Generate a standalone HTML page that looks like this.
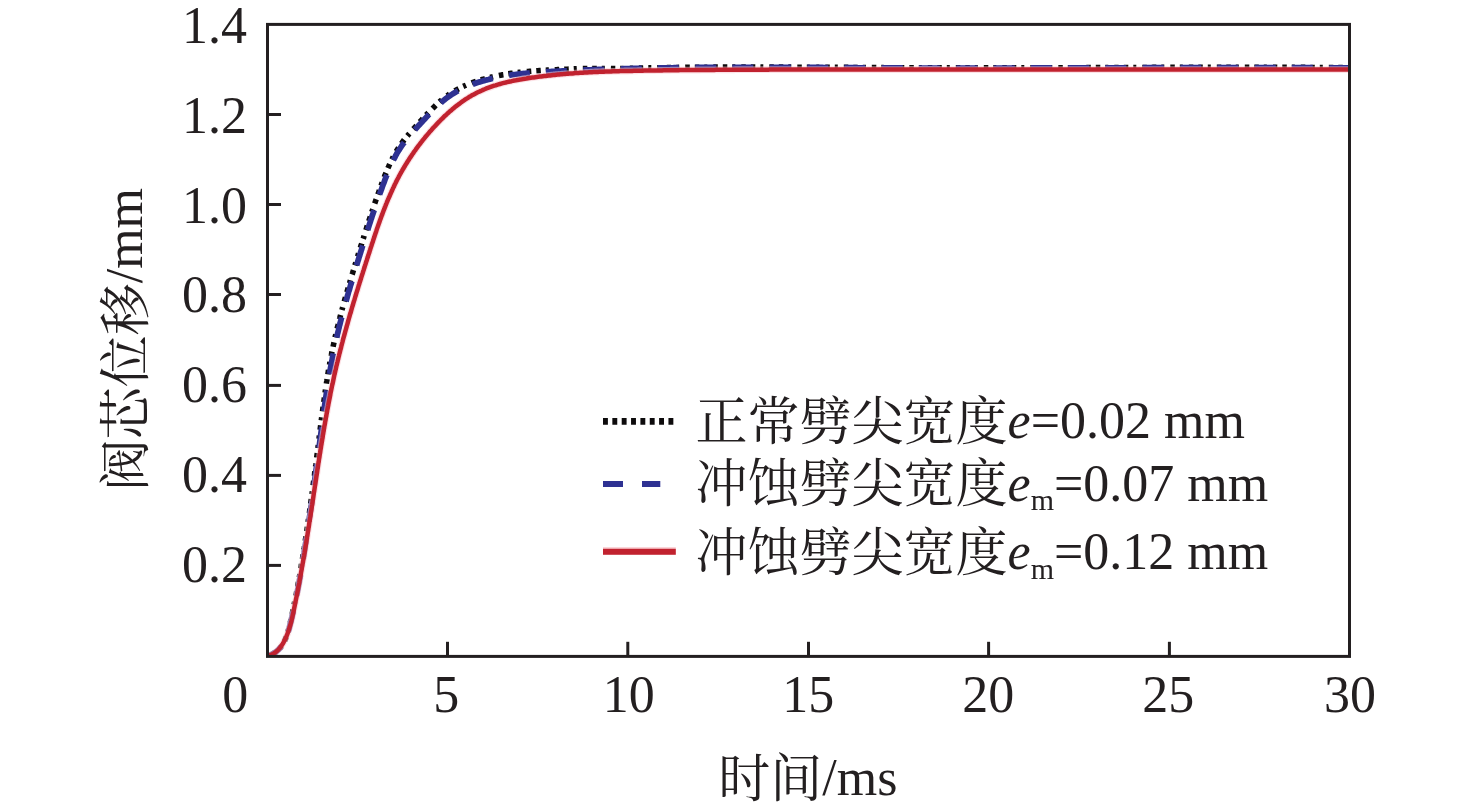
<!DOCTYPE html>
<html lang="zh">
<head>
<meta charset="utf-8">
<title>阀芯位移 - 时间</title>
<style>
html,body{margin:0;padding:0;background:#fff;}
body{width:1476px;height:811px;overflow:hidden;}
svg{display:block;}
</style>
</head>
<body>
<svg width="1476" height="811" viewBox="0 0 1476 811">
<rect x="0" y="0" width="1476" height="811" fill="#ffffff"/>
<clipPath id="pc"><rect x="267.5" y="24.4" width="1082.0" height="632.0"/></clipPath>
<g clip-path="url(#pc)" fill="none" stroke-linejoin="round">
<path d="M272.2,654.1 L273.5,653.4 L274.8,652.6 L276.0,651.8 M279.7,648.4 L280.7,647.2 L281.6,646.0 M284.6,640.9 L285.2,639.5 L285.8,638.1 L286.3,636.7 M287.9,632.0 L288.3,630.6 L288.7,629.1 M290.3,622.8 L290.6,621.4 L290.9,619.9 M292.2,614.0 L292.5,612.6 L292.8,611.1 L293.1,609.6 M294.1,604.7 L294.4,603.3 L294.7,601.8 M295.9,595.9 L296.2,594.5 L296.5,593.0 L296.7,591.5 M297.7,586.6 L297.9,585.1 L298.2,583.6 L298.5,582.2 M299.4,577.3 L299.6,575.8 L299.9,574.3 M300.9,568.4 L301.1,566.9 L301.4,565.4 L301.6,564.0 M302.4,559.0 L302.7,557.5 L302.9,556.1 L303.2,554.6 M303.9,549.7 L304.2,548.2 L304.4,546.7 M305.3,540.8 L305.5,539.3 L305.8,537.8 L306.0,536.3 M306.7,531.4 L307.0,529.9 L307.2,528.4 L307.4,526.9 M308.1,522.0 L308.3,520.5 L308.5,519.0 M309.4,513.1 L309.6,511.6 L309.8,510.1 L310.0,508.6 M310.7,503.7 L310.9,502.2 L311.1,500.7 L311.3,499.2 M312.0,494.2 L312.2,492.8 L312.4,491.3 M313.1,485.3 L313.3,483.8 L313.5,482.3 L313.7,480.9 M314.4,475.9 L314.6,474.4 L314.7,472.9 L314.9,471.4 M315.6,466.5 L315.8,465.0 L315.9,463.5 M316.7,457.6 L316.9,456.1 L317.1,454.6 L317.3,453.1 M317.9,448.1 L318.1,446.6 L318.3,445.2 M319.1,438.7 L319.2,437.2 L319.4,435.7 M320.2,429.8 L320.3,428.3 L320.5,426.8 L320.7,425.3 M321.3,420.3 L321.5,418.8 L321.7,417.4 M322.5,411.4 L322.7,409.9 L322.9,408.4 L323.1,406.9 M323.8,402.0 L324.0,400.5 L324.2,399.0 L324.4,397.5 M325.1,392.6 L325.3,391.1 L325.5,389.6 M326.4,383.6 L326.6,382.2 L326.9,380.7 L327.1,379.2 M327.9,374.3 L328.1,372.8 L328.4,371.3 L328.6,369.8 M329.5,364.9 L329.8,363.4 L330.0,361.9 M331.2,356.0 L331.5,354.5 L331.7,353.1 L332.0,351.6 M333.1,346.7 L333.4,345.2 L333.7,343.7 L334.0,342.3 M335.1,337.4 L335.4,335.9 L335.8,334.4 M337.2,328.6 L337.5,327.1 L337.9,325.7 L338.3,324.2 M339.5,319.3 L339.9,317.9 L340.2,316.4 L340.6,315.0 M341.9,310.1 L342.3,308.7 L342.7,307.2 M344.3,301.5 L344.7,300.0 L345.1,298.6 L345.5,297.1 M346.9,292.3 L347.3,290.9 L347.7,289.4 L348.2,288.0 M349.6,283.2 L350.0,281.7 L350.4,280.3 M352.1,274.5 L352.6,273.1 L353.0,271.7 L353.5,270.2 M354.9,265.4 L355.4,264.0 L355.8,262.6 M357.7,256.4 L358.1,254.9 L358.6,253.5 M360.4,247.8 L360.8,246.3 L361.3,244.9 L361.7,243.5 M363.2,238.7 L363.7,237.3 L364.1,235.8 M365.9,230.1 L366.4,228.7 L366.8,227.2 L367.3,225.8 M368.8,221.1 L369.3,219.6 L369.8,218.2 L370.3,216.8 M371.8,212.0 L372.3,210.6 L372.8,209.2 M374.7,203.5 L375.2,202.1 L375.7,200.6 L376.2,199.2 M377.9,194.5 L378.4,193.1 L378.9,191.7 L379.4,190.3 M381.1,185.6 L381.6,184.1 L382.2,182.7 M384.3,177.1 L384.8,175.7 L385.4,174.3 L386.0,172.9 M387.9,168.2 L388.5,166.9 L389.1,165.5 L389.7,164.1 M391.9,159.5 L392.6,158.2 L393.3,156.8 M396.2,151.5 L397.0,150.2 L397.8,148.9 L398.6,147.6 M401.5,143.5 L402.4,142.2 L403.3,141.0 L404.2,139.8 M407.4,135.9 L408.4,134.7 L409.4,133.6 M413.3,129.0 L414.4,127.9 L415.4,126.8 L416.4,125.7 M419.8,122.0 L420.8,120.9 L421.8,119.8 L422.8,118.7 M426.2,115.0 L427.2,113.9 L428.3,112.8 M432.5,108.5 L433.6,107.4 L434.6,106.4 L435.7,105.3 M439.5,101.9 L440.6,100.9 L441.8,99.9 M447.0,95.8 L448.2,95.0 L449.5,94.1 M454.7,90.8 L456.0,90.1 L457.3,89.4 L458.7,88.7 M463.2,86.4 L464.6,85.8 L466.0,85.2 M471.7,83.0 L473.1,82.4 L474.5,81.9 L476.0,81.4 M480.8,79.9 L482.2,79.5 L483.7,79.1 L485.1,78.7 M490.0,77.4 L491.5,77.1 L493.0,76.7 M498.9,75.5 L500.4,75.2 L501.9,74.9 L503.4,74.7 M508.3,73.8 L509.8,73.6 L511.3,73.4 L512.8,73.2 M517.8,72.6 L519.3,72.4 L520.8,72.2 M526.8,71.6 L528.3,71.5 L529.8,71.3 L531.3,71.2 M536.3,70.8 L537.8,70.7 L539.3,70.6 L540.8,70.5 M545.8,70.2 L547.3,70.1 L548.8,70.1 M554.8,69.8 L556.3,69.7 L557.8,69.6 L559.3,69.5 M564.3,69.3 L565.8,69.2 L567.3,69.2 L568.8,69.1 M573.8,68.9 L575.3,68.8 L576.8,68.7 M582.8,68.6 L584.3,68.6 L585.8,68.6 L587.3,68.6 M592.3,68.6 L593.8,68.5 L595.3,68.5 L596.8,68.5 M601.8,68.5 L603.3,68.5 L604.8,68.5 M610.8,68.5 L612.3,68.6 L613.8,68.6 L615.3,68.6 M620.3,68.6 L621.8,68.5 L623.3,68.5 M629.8,68.3 L631.3,68.3 L632.8,68.3 M638.8,68.1 L640.3,68.1 L641.8,68.1 L643.3,68.0 M648.3,67.9 L649.8,67.9 L651.3,67.9 M657.3,67.8 L658.8,67.7 L660.3,67.7 L661.8,67.7 M666.8,67.6 L668.3,67.6 L669.8,67.6 L671.3,67.5 M676.3,67.5 L677.8,67.5 L679.3,67.4 M685.3,67.4 L686.8,67.3 L688.3,67.3 L689.8,67.3 M694.8,67.3 L696.3,67.3 L697.8,67.2 L699.3,67.2 M704.3,67.2 L705.8,67.2 L707.3,67.2 M713.3,67.1 L714.8,67.1 L716.3,67.1 L717.8,67.1 M722.8,67.1 L724.3,67.1 L725.8,67.1 L727.3,67.1 M732.3,67.1 L733.8,67.1 L735.3,67.1 M741.3,67.0 L742.8,67.0 L744.3,67.0 L745.8,67.0 M750.8,67.0 L752.3,67.0 L753.8,67.0 L755.3,67.0 M760.3,67.0 L761.8,67.1 L763.3,67.1 M769.3,67.1 L770.8,67.1 L772.3,67.1 L773.8,67.1 M778.8,67.1 L780.3,67.1 L781.8,67.1 L783.3,67.1 M788.3,67.1 L789.8,67.1 L791.3,67.1 M797.3,67.2 L798.8,67.2 L800.3,67.2 L801.8,67.2 M806.8,67.2 L808.3,67.2 L809.8,67.2 M816.3,67.3 L817.8,67.3 L819.3,67.3 M825.3,67.3 L826.8,67.3 L828.3,67.3 L829.8,67.3 M834.8,67.4 L836.3,67.4 L837.8,67.4 M843.8,67.4 L845.3,67.4 L846.8,67.4 L848.3,67.4 M853.3,67.5 L854.8,67.5 L856.3,67.5 L857.8,67.5 M862.8,67.5 L864.3,67.5 L865.8,67.6 M871.8,67.6 L873.3,67.6 L874.8,67.6 L876.3,67.6 M881.3,67.6 L882.8,67.6 L884.3,67.7 L885.8,67.7 M890.8,67.7 L892.3,67.7 L893.8,67.7 M899.8,67.7 L901.3,67.7 L902.8,67.7 L904.3,67.7 M909.3,67.8 L910.8,67.8 L912.3,67.8 L913.8,67.8 M918.8,67.8 L920.3,67.8 L921.8,67.8 M927.8,67.8 L929.3,67.8 L930.8,67.8 L932.3,67.8 M937.3,67.8 L938.8,67.8 L940.3,67.8 L941.8,67.8 M946.8,67.9 L948.3,67.9 L949.8,67.9 M955.8,67.9 L957.3,67.9 L958.8,67.9 L960.3,67.9 M965.3,67.9 L966.8,67.9 L968.3,67.9 L969.8,67.9 M974.8,67.9 L976.3,67.9 L977.8,67.9 M983.8,67.9 L985.3,67.9 L986.8,67.9 L988.3,67.9 M993.3,67.9 L994.8,67.9 L996.3,67.9 M1002.3,67.8 L1003.8,67.8 L1005.3,67.8 L1006.8,67.8 M1011.8,67.8 L1013.3,67.8 L1014.8,67.8 L1016.3,67.8 M1021.3,67.8 L1022.8,67.8 L1024.3,67.8 M1030.3,67.8 L1031.8,67.8 L1033.3,67.8 L1034.8,67.8 M1039.8,67.8 L1041.3,67.8 L1042.8,67.8 L1044.3,67.8 M1049.3,67.8 L1050.8,67.7 L1052.3,67.7 M1058.3,67.7 L1059.8,67.7 L1061.3,67.7 L1062.8,67.7 M1067.8,67.7 L1069.3,67.7 L1070.8,67.7 L1072.3,67.7 M1077.3,67.7 L1078.8,67.7 L1080.3,67.7 M1086.3,67.6 L1087.8,67.6 L1089.3,67.6 L1090.8,67.6 M1095.8,67.6 L1097.3,67.6 L1098.8,67.6 L1100.3,67.6 M1105.3,67.6 L1106.8,67.6 L1108.3,67.6 M1114.3,67.6 L1115.8,67.6 L1117.3,67.6 L1118.8,67.5 M1123.8,67.5 L1125.3,67.5 L1126.8,67.5 L1128.3,67.5 M1133.3,67.5 L1134.8,67.5 L1136.3,67.5 M1142.3,67.5 L1143.8,67.5 L1145.3,67.5 L1146.8,67.5 M1151.8,67.5 L1153.3,67.4 L1154.8,67.4 L1156.3,67.4 M1161.3,67.4 L1162.8,67.4 L1164.3,67.4 M1170.3,67.4 L1171.8,67.4 L1173.3,67.4 L1174.8,67.4 M1179.8,67.4 L1181.3,67.4 L1182.8,67.4 M1188.8,67.4 L1190.3,67.4 L1191.8,67.4 L1193.3,67.4 M1198.3,67.3 L1199.8,67.3 L1201.3,67.3 L1202.8,67.3 M1207.8,67.3 L1209.3,67.3 L1210.8,67.3 M1216.8,67.3 L1218.3,67.3 L1219.8,67.3 L1221.3,67.3 M1226.3,67.3 L1227.8,67.3 L1229.3,67.3 L1230.8,67.3 M1235.8,67.3 L1237.3,67.3 L1238.8,67.3 M1244.8,67.3 L1246.3,67.3 L1247.8,67.3 L1249.3,67.3 M1254.3,67.3 L1255.8,67.3 L1257.3,67.3 L1258.8,67.3 M1263.8,67.3 L1265.3,67.3 L1266.8,67.3 M1272.8,67.3 L1274.3,67.4 L1275.8,67.4 L1277.3,67.4 M1282.3,67.4 L1283.8,67.4 L1285.3,67.4 L1286.8,67.4 M1291.8,67.4 L1293.3,67.4 L1294.8,67.4 M1300.8,67.4 L1302.3,67.4 L1303.8,67.4 L1305.3,67.4 M1310.3,67.5 L1311.8,67.5 L1313.3,67.5 L1314.8,67.5 M1319.8,67.5 L1321.3,67.5 L1322.8,67.5 M1328.8,67.6 L1330.3,67.6 L1331.8,67.6 L1333.3,67.6 M1338.3,67.6 L1339.8,67.6 L1341.3,67.6 L1342.8,67.6 M1347.8,67.7 L1348.3,67.7 L1348.8,67.7 L1349.3,67.7" stroke="#0d0b0c" stroke-width="5.6"/>
<path d="M267.5,655.9 L269.0,655.5 L270.4,655.0 L271.8,654.3 L273.1,653.7 L274.4,652.9 L275.6,652.1 L276.8,651.2 L277.9,650.2 L279.0,649.1 L280.0,648.0 L281.0,646.9 M288.2,631.6 L288.7,630.1 L289.1,628.7 L289.5,627.3 L289.8,625.8 L290.2,624.3 L290.6,622.9 L290.9,621.4 L291.3,620.0 L291.6,618.5 L292.0,617.1 L292.3,615.6 L292.6,614.1 L293.0,612.7 L293.3,611.2 M296.6,595.6 L296.9,594.1 L297.2,592.6 L297.5,591.1 L297.8,589.7 L298.1,588.2 L298.3,586.7 L298.6,585.3 L298.9,583.8 L299.2,582.3 L299.4,580.8 L299.7,579.3 L300.0,577.9 L300.2,576.4 L300.5,574.9 M303.2,558.6 L303.5,557.2 L303.7,555.7 L303.9,554.2 L304.2,552.7 L304.4,551.2 L304.6,549.8 L304.9,548.3 L305.1,546.8 L305.3,545.3 L305.6,543.8 L305.8,542.3 L306.0,540.9 L306.2,539.4 L306.5,537.9 M308.9,521.6 L309.1,520.1 L309.3,518.6 L309.5,517.1 L309.8,515.6 L310.0,514.2 L310.2,512.7 L310.4,511.2 L310.6,509.7 L310.8,508.2 L311.0,506.7 L311.3,505.2 L311.5,503.8 L311.7,502.3 L311.9,500.8 M314.1,484.9 L314.3,483.5 L314.5,482.0 L314.7,480.5 L314.9,479.0 L315.1,477.5 L315.3,476.0 L315.5,474.5 L315.7,473.1 L315.9,471.6 L316.1,470.1 L316.3,468.6 L316.5,467.1 L316.7,465.6 L316.9,464.1 M319.1,447.8 L319.2,446.3 L319.4,444.8 L319.6,443.3 L319.8,441.8 L320.0,440.3 L320.2,438.9 L320.4,437.4 L320.6,435.9 L320.8,434.4 L321.0,432.9 L321.2,431.4 L321.4,429.9 L321.6,428.4 L321.8,427.0 M323.9,411.1 L324.1,409.6 L324.3,408.1 L324.5,406.6 L324.7,405.2 L324.9,403.7 L325.1,402.2 L325.4,400.7 L325.6,399.2 L325.8,397.7 L326.0,396.2 L326.2,394.8 L326.4,393.3 L326.7,391.8 L326.9,390.3 M329.5,374.0 L329.8,372.5 L330.0,371.1 L330.3,369.6 L330.5,368.1 L330.8,366.6 L331.1,365.2 L331.3,363.7 L331.6,362.2 L331.9,360.7 L332.2,359.3 L332.4,357.8 L332.7,356.3 L333.0,354.8 L333.3,353.4 M336.7,337.7 L337.0,336.3 L337.3,334.8 L337.7,333.3 L338.0,331.9 L338.4,330.4 L338.7,329.0 L339.1,327.5 L339.4,326.0 L339.8,324.6 L340.2,323.1 L340.5,321.7 L340.9,320.2 L341.3,318.8 L341.7,317.3 M346.0,301.4 L346.4,300.0 L346.8,298.5 L347.2,297.1 L347.6,295.6 L348.0,294.2 L348.4,292.7 L348.8,291.3 L349.3,289.9 L349.7,288.4 L350.1,287.0 L350.5,285.5 L351.0,284.1 L351.4,282.7 L351.8,281.2 M356.6,265.4 L357.0,264.0 L357.5,262.6 L357.9,261.1 L358.4,259.7 L358.8,258.3 L359.2,256.8 L359.7,255.4 L360.1,254.0 L360.6,252.5 L361.0,251.1 L361.5,249.7 L361.9,248.2 L362.3,246.8 L362.8,245.4 M367.6,230.1 L368.1,228.7 L368.5,227.3 L369.0,225.8 L369.4,224.4 L369.9,223.0 L370.4,221.5 L370.8,220.1 L371.3,218.7 L371.8,217.3 L372.2,215.8 L372.7,214.4 L373.2,213.0 L373.7,211.6 L374.1,210.2 M379.5,194.6 L380.0,193.2 L380.6,191.7 L381.1,190.3 L381.6,188.9 L382.1,187.5 L382.6,186.1 L383.1,184.7 L383.7,183.3 L384.2,181.9 L384.7,180.5 L385.2,179.1 L385.8,177.7 L386.3,176.3 L386.9,174.9 M393.3,160.2 L394.0,158.9 L394.7,157.6 L395.4,156.2 L396.1,154.9 L396.8,153.6 L397.6,152.3 L398.4,151.0 L399.2,149.8 L400.0,148.5 L400.8,147.3 L401.6,146.0 L402.5,144.8 L403.4,143.6 L404.3,142.4 M414.9,129.7 L415.9,128.6 L416.9,127.5 L417.9,126.4 L418.9,125.3 L419.9,124.2 L420.9,123.1 L422.0,122.0 L423.0,120.9 L424.0,119.8 L425.0,118.7 L426.0,117.6 L427.0,116.5 L428.1,115.4 L429.1,114.3 M440.9,102.8 L442.0,101.8 L443.2,100.8 L444.4,99.9 L445.5,98.9 L446.7,98.0 L447.9,97.1 L449.1,96.3 L450.4,95.4 L451.6,94.6 L452.9,93.8 L454.2,93.0 L455.5,92.2 L456.8,91.5 L458.1,90.8 M472.7,84.3 L474.1,83.8 L475.5,83.3 L476.9,82.8 L478.4,82.3 L479.8,81.9 L481.2,81.5 L482.7,81.0 L484.1,80.6 L485.6,80.2 L487.0,79.8 L488.5,79.5 L489.9,79.1 L491.4,78.7 L492.8,78.4 M509.1,75.3 L510.5,75.1 L512.0,74.9 L513.5,74.7 L515.0,74.5 L516.5,74.3 L518.0,74.1 L519.5,74.0 L521.0,73.8 L522.4,73.6 L523.9,73.5 L525.4,73.3 L526.9,73.2 L528.4,73.1 L529.9,72.9 M545.9,71.8 L547.4,71.7 L548.9,71.7 L550.4,71.6 L551.9,71.5 L553.4,71.4 L554.9,71.4 L556.4,71.3 L557.9,71.2 L559.4,71.1 L560.9,71.1 L562.4,71.0 L563.9,70.9 L565.3,70.8 L566.8,70.8 M583.3,70.1 L584.8,70.0 L586.3,70.0 L587.8,69.9 L589.3,69.8 L590.8,69.8 L592.3,69.7 L593.8,69.7 L595.3,69.6 L596.8,69.6 L598.3,69.5 L599.8,69.5 L601.3,69.4 L602.8,69.4 L604.3,69.3 M620.8,68.8 L622.3,68.8 L623.8,68.7 L625.3,68.7 L626.8,68.7 L628.3,68.6 L629.8,68.6 L631.3,68.6 L632.8,68.5 L634.3,68.5 L635.8,68.4 L637.3,68.4 L638.8,68.4 L640.3,68.3 L641.8,68.3 M657.8,68.0 L659.3,68.0 L660.8,68.0 L662.3,67.9 L663.8,67.9 L665.3,67.9 L666.8,67.9 L668.3,67.8 L669.8,67.8 L671.3,67.8 L672.8,67.8 L674.3,67.7 L675.8,67.7 L677.3,67.7 L678.8,67.7 M695.3,67.5 L696.8,67.5 L698.3,67.5 L699.8,67.5 L701.3,67.5 L702.8,67.5 L704.3,67.4 L705.8,67.4 L707.3,67.4 L708.8,67.4 L710.3,67.4 L711.8,67.4 L713.3,67.4 L714.8,67.4 L716.3,67.4 M732.3,67.3 L733.8,67.3 L735.3,67.3 L736.8,67.3 L738.3,67.3 L739.8,67.3 L741.3,67.3 L742.8,67.3 L744.3,67.3 L745.8,67.3 L747.3,67.3 L748.8,67.3 L750.3,67.3 L751.8,67.3 L753.3,67.3 M769.8,67.3 L771.3,67.3 L772.8,67.3 L774.3,67.3 L775.8,67.3 L777.3,67.3 L778.8,67.3 L780.3,67.3 L781.8,67.4 L783.3,67.4 L784.8,67.4 L786.3,67.4 L787.8,67.4 L789.3,67.4 L790.8,67.4 M807.3,67.5 L808.8,67.5 L810.3,67.5 L811.8,67.5 L813.3,67.5 L814.8,67.5 L816.3,67.5 L817.8,67.5 L819.3,67.5 L820.8,67.5 L822.3,67.5 L823.8,67.6 L825.3,67.6 L826.8,67.6 L828.3,67.6 M844.3,67.7 L845.8,67.7 L847.3,67.7 L848.8,67.7 L850.3,67.7 L851.8,67.7 L853.3,67.7 L854.8,67.7 L856.3,67.7 L857.8,67.8 L859.3,67.8 L860.8,67.8 L862.3,67.8 L863.8,67.8 L865.3,67.8 M881.8,67.9 L883.3,67.9 L884.8,67.9 L886.3,67.9 L887.8,67.9 L889.3,67.9 L890.8,67.9 L892.3,67.9 L893.8,68.0 L895.3,68.0 L896.8,68.0 L898.3,68.0 L899.8,68.0 L901.3,68.0 L902.8,68.0 M918.8,68.0 L920.3,68.1 L921.8,68.1 L923.3,68.1 L924.8,68.1 L926.3,68.1 L927.8,68.1 L929.3,68.1 L930.8,68.1 L932.3,68.1 L933.8,68.1 L935.3,68.1 L936.8,68.1 L938.3,68.1 L939.8,68.1 M956.3,68.1 L957.8,68.1 L959.3,68.1 L960.8,68.1 L962.3,68.1 L963.8,68.1 L965.3,68.1 L966.8,68.1 L968.3,68.1 L969.8,68.1 L971.3,68.1 L972.8,68.1 L974.3,68.1 L975.8,68.1 L977.3,68.1 M993.8,68.1 L995.3,68.1 L996.8,68.1 L998.3,68.1 L999.8,68.1 L1001.3,68.1 L1002.8,68.1 L1004.3,68.1 L1005.8,68.1 L1007.3,68.1 L1008.8,68.1 L1010.3,68.1 L1011.8,68.1 L1013.3,68.1 L1014.8,68.1 M1030.8,68.0 L1032.3,68.0 L1033.8,68.0 L1035.3,68.0 L1036.8,68.0 L1038.3,68.0 L1039.8,68.0 L1041.3,68.0 L1042.8,68.0 L1044.3,68.0 L1045.8,68.0 L1047.3,68.0 L1048.8,68.0 L1050.3,68.0 L1051.8,68.0 M1068.3,68.0 L1069.8,67.9 L1071.3,67.9 L1072.8,67.9 L1074.3,67.9 L1075.8,67.9 L1077.3,67.9 L1078.8,67.9 L1080.3,67.9 L1081.8,67.9 L1083.3,67.9 L1084.8,67.9 L1086.3,67.9 L1087.8,67.9 L1089.3,67.9 M1105.3,67.8 L1106.8,67.8 L1108.3,67.8 L1109.8,67.8 L1111.3,67.8 L1112.8,67.8 L1114.3,67.8 L1115.8,67.8 L1117.3,67.8 L1118.8,67.8 L1120.3,67.8 L1121.8,67.8 L1123.3,67.8 L1124.8,67.8 L1126.3,67.8 M1142.8,67.7 L1144.3,67.7 L1145.8,67.7 L1147.3,67.7 L1148.8,67.7 L1150.3,67.7 L1151.8,67.7 L1153.3,67.7 L1154.8,67.7 L1156.3,67.7 L1157.8,67.7 L1159.3,67.7 L1160.8,67.7 L1162.3,67.7 L1163.8,67.7 M1180.3,67.6 L1181.8,67.6 L1183.3,67.6 L1184.8,67.6 L1186.3,67.6 L1187.8,67.6 L1189.3,67.6 L1190.8,67.6 L1192.3,67.6 L1193.8,67.6 L1195.3,67.6 L1196.8,67.6 L1198.3,67.6 L1199.8,67.6 L1201.3,67.6 M1217.3,67.6 L1218.8,67.6 L1220.3,67.6 L1221.8,67.6 L1223.3,67.6 L1224.8,67.6 L1226.3,67.6 L1227.8,67.6 L1229.3,67.6 L1230.8,67.6 L1232.3,67.6 L1233.8,67.6 L1235.3,67.6 L1236.8,67.6 L1238.3,67.6 M1254.8,67.6 L1256.3,67.6 L1257.8,67.6 L1259.3,67.6 L1260.8,67.6 L1262.3,67.6 L1263.8,67.6 L1265.3,67.6 L1266.8,67.6 L1268.3,67.6 L1269.8,67.6 L1271.3,67.6 L1272.8,67.6 L1274.3,67.6 L1275.8,67.6 M1291.8,67.6 L1293.3,67.6 L1294.8,67.7 L1296.3,67.7 L1297.8,67.7 L1299.3,67.7 L1300.8,67.7 L1302.3,67.7 L1303.8,67.7 L1305.3,67.7 L1306.8,67.7 L1308.3,67.7 L1309.8,67.7 L1311.3,67.7 L1312.8,67.7 M1329.3,67.8 L1330.8,67.8 L1332.3,67.8 L1333.8,67.8 L1335.3,67.8 L1336.8,67.9 L1338.3,67.9 L1339.8,67.9 L1341.3,67.9 L1342.8,67.9 L1344.3,67.9 L1345.8,67.9 L1347.3,67.9 L1348.8,67.9" stroke="#2e3192" stroke-width="5.8"/>
<path d="M267.6,655.9 L269.2,655.5 L270.7,655.0 L272.1,654.4 L273.4,653.7 L274.7,652.9 L275.8,652.0 L276.9,651.1 L278.0,650.1 L278.9,649.1 L279.9,648.0 L280.7,646.8 L281.6,645.6 L282.3,644.4 L283.1,643.2 L283.8,641.9 L284.4,640.6 L285.1,639.3 L285.7,638.0 L286.3,636.6 L286.9,635.3 L287.4,633.9 L287.9,632.5 L288.4,631.1 L288.9,629.7 L289.3,628.3 L289.8,626.8 L290.2,625.4 L290.6,624.0 L291.0,622.5 L291.4,621.0 L291.7,619.6 L292.1,618.1 L292.4,616.6 L292.7,615.2 L293.1,613.7 L293.4,612.2 L293.7,610.7 L294.0,609.2 L294.3,607.7 L294.6,606.3 L294.9,604.8 L295.2,603.3 L295.5,601.8 L295.8,600.3 L296.1,598.8 L296.4,597.4 L296.7,595.9 L297.0,594.4 L297.3,592.9 L297.6,591.4 L297.9,590.0 L298.1,588.5 L298.4,587.0 L298.7,585.5 L299.0,584.1 L299.3,582.6 L299.5,581.1 L299.8,579.6 L300.1,578.2 L300.3,576.7 L300.6,575.2 L300.9,573.7 L301.1,572.3 L301.4,570.8 L301.7,569.3 L301.9,567.8 L302.2,566.4 L302.4,564.9 L302.7,563.4 L303.0,562.0 L303.2,560.5 L303.5,559.0 L303.7,557.5 L304.0,556.1 L304.2,554.6 L304.5,553.1 L304.7,551.7 L305.0,550.2 L305.2,548.7 L305.4,547.2 L305.7,545.8 L305.9,544.3 L306.2,542.8 L306.4,541.4 L306.6,539.9 L306.9,538.4 L307.1,537.0 L307.4,535.5 L307.6,534.0 L307.8,532.5 L308.1,531.1 L308.3,529.6 L308.5,528.1 L308.8,526.7 L309.0,525.2 L309.2,523.7 L309.4,522.3 L309.7,520.8 L309.9,519.3 L310.1,517.8 L310.4,516.4 L310.6,514.9 L310.8,513.4 L311.0,511.9 L311.3,510.5 L311.5,509.0 L311.7,507.5 L311.9,506.1 L312.2,504.6 L312.4,503.1 L312.6,501.6 L312.8,500.2 L313.1,498.7 L313.3,497.2 L313.5,495.7 L313.7,494.3 L313.9,492.8 L314.2,491.3 L314.4,489.8 L314.6,488.4 L314.8,486.9 L315.1,485.4 L315.3,483.9 L315.5,482.4 L315.7,481.0 L316.0,479.5 L316.2,478.0 L316.4,476.5 L316.6,475.1 L316.9,473.6 L317.1,472.1 L317.3,470.6 L317.5,469.1 L317.8,467.7 L318.0,466.2 L318.2,464.7 L318.4,463.2 L318.7,461.7 L318.9,460.3 L319.1,458.8 L319.4,457.3 L319.6,455.8 L319.8,454.3 L320.1,452.9 L320.3,451.4 L320.5,449.9 L320.8,448.4 L321.0,447.0 L321.2,445.5 L321.5,444.0 L321.7,442.5 L322.0,441.0 L322.2,439.6 L322.5,438.1 L322.7,436.6 L322.9,435.1 L323.2,433.7 L323.4,432.2 L323.7,430.7 L323.9,429.2 L324.2,427.7 L324.4,426.3 L324.7,424.8 L325.0,423.3 L325.2,421.8 L325.5,420.4 L325.7,418.9 L326.0,417.4 L326.3,416.0 L326.5,414.5 L326.8,413.0 L327.1,411.5 L327.3,410.1 L327.6,408.6 L327.9,407.1 L328.2,405.6 L328.4,404.2 L328.7,402.7 L329.0,401.2 L329.3,399.8 L329.6,398.3 L329.9,396.8 L330.2,395.4 L330.4,393.9 L330.7,392.4 L331.0,391.0 L331.3,389.5 L331.6,388.0 L331.9,386.6 L332.2,385.1 L332.6,383.6 L332.9,382.2 L333.2,380.7 L333.5,379.3 L333.8,377.8 L334.1,376.3 L334.4,374.9 L334.8,373.4 L335.1,372.0 L335.4,370.5 L335.8,369.1 L336.1,367.6 L336.4,366.1 L336.8,364.7 L337.1,363.2 L337.5,361.8 L337.8,360.3 L338.2,358.9 L338.5,357.4 L338.9,356.0 L339.2,354.5 L339.6,353.1 L340.0,351.6 L340.3,350.2 L340.7,348.8 L341.1,347.3 L341.4,345.9 L341.8,344.4 L342.2,343.0 L342.6,341.5 L342.9,340.1 L343.3,338.6 L343.7,337.2 L344.1,335.8 L344.5,334.3 L344.9,332.9 L345.3,331.4 L345.7,330.0 L346.1,328.6 L346.5,327.1 L346.9,325.7 L347.3,324.3 L347.7,322.8 L348.1,321.4 L348.5,319.9 L348.9,318.5 L349.3,317.1 L349.7,315.6 L350.1,314.2 L350.6,312.8 L351.0,311.3 L351.4,309.9 L351.8,308.5 L352.2,307.0 L352.7,305.6 L353.1,304.2 L353.5,302.7 L353.9,301.3 L354.4,299.9 L354.8,298.5 L355.2,297.0 L355.7,295.6 L356.1,294.2 L356.5,292.7 L357.0,291.3 L357.4,289.9 L357.9,288.5 L358.3,287.0 L358.7,285.6 L359.2,284.2 L359.6,282.7 L360.1,281.3 L360.5,279.9 L361.0,278.5 L361.4,277.0 L361.9,275.6 L362.3,274.2 L362.8,272.7 L363.2,271.3 L363.7,269.9 L364.1,268.5 L364.6,267.0 L365.0,265.6 L365.5,264.2 L365.9,262.8 L366.4,261.3 L366.9,259.9 L367.3,258.5 L367.8,257.1 L368.2,255.6 L368.7,254.2 L369.2,252.8 L369.6,251.3 L370.1,249.9 L370.5,248.5 L371.0,247.1 L371.5,245.6 L371.9,244.2 L372.4,242.8 L372.9,241.4 L373.3,239.9 L373.8,238.5 L374.3,237.1 L374.7,235.7 L375.2,234.2 L375.7,232.8 L376.2,231.4 L376.6,230.0 L377.1,228.6 L377.6,227.1 L378.1,225.7 L378.6,224.3 L379.1,222.9 L379.6,221.5 L380.1,220.1 L380.6,218.7 L381.1,217.3 L381.6,215.9 L382.2,214.5 L382.7,213.1 L383.2,211.7 L383.7,210.3 L384.3,208.9 L384.8,207.5 L385.4,206.1 L385.9,204.7 L386.5,203.3 L387.0,202.0 L387.6,200.6 L388.2,199.2 L388.8,197.8 L389.4,196.5 L390.0,195.1 L390.6,193.7 L391.2,192.4 L391.8,191.0 L392.4,189.7 L393.0,188.3 L393.7,187.0 L394.3,185.6 L394.9,184.3 L395.6,183.0 L396.3,181.6 L396.9,180.3 L397.6,179.0 L398.3,177.7 L399.0,176.3 L399.7,175.0 L400.4,173.7 L401.1,172.4 L401.9,171.1 L402.6,169.8 L403.4,168.6 L404.1,167.3 L404.9,166.0 L405.6,164.7 L406.4,163.5 L407.2,162.2 L408.0,160.9 L408.8,159.7 L409.6,158.4 L410.5,157.2 L411.3,155.9 L412.1,154.7 L413.0,153.5 L413.8,152.2 L414.7,151.0 L415.6,149.8 L416.4,148.6 L417.3,147.4 L418.2,146.2 L419.1,145.0 L420.0,143.8 L420.9,142.6 L421.9,141.4 L422.8,140.2 L423.7,139.1 L424.7,137.9 L425.6,136.7 L426.6,135.6 L427.6,134.4 L428.5,133.3 L429.5,132.1 L430.5,131.0 L431.5,129.9 L432.5,128.7 L433.5,127.6 L434.6,126.5 L435.6,125.4 L436.6,124.3 L437.7,123.2 L438.7,122.1 L439.8,121.0 L440.8,119.9 L441.9,118.9 L443.0,117.8 L444.1,116.7 L445.1,115.7 L446.3,114.7 L447.4,113.7 L448.5,112.6 L449.6,111.6 L450.7,110.7 L451.9,109.7 L453.0,108.7 L454.2,107.7 L455.3,106.8 L456.5,105.9 L457.7,105.0 L458.9,104.1 L460.1,103.2 L461.3,102.3 L462.5,101.4 L463.7,100.6 L465.0,99.7 L466.2,98.9 L467.5,98.1 L468.7,97.3 L470.0,96.6 L471.2,95.8 L472.5,95.1 L473.8,94.4 L475.1,93.7 L476.4,93.0 L477.8,92.3 L479.1,91.7 L480.4,91.1 L481.8,90.5 L483.1,89.9 L484.5,89.3 L485.8,88.7 L487.2,88.2 L488.6,87.7 L490.0,87.2 L491.4,86.7 L492.8,86.2 L494.2,85.7 L495.6,85.3 L497.0,84.8 L498.5,84.4 L499.9,84.0 L501.3,83.6 L502.8,83.2 L504.2,82.8 L505.7,82.5 L507.1,82.1 L508.6,81.8 L510.0,81.5 L511.5,81.2 L513.0,80.8 L514.5,80.5 L515.9,80.3 L517.4,80.0 L518.9,79.7 L520.4,79.4 L521.9,79.2 L523.4,78.9 L524.8,78.7 L526.3,78.5 L527.8,78.2 L529.3,78.0 L530.8,77.8 L532.3,77.6 L533.8,77.4 L535.3,77.2 L536.8,77.0 L538.3,76.8 L539.8,76.6 L541.3,76.4 L542.8,76.2 L544.2,76.0 L545.7,75.9 L547.2,75.7 L548.7,75.5 L550.2,75.4 L551.7,75.2 L553.2,75.0 L554.7,74.9 L556.2,74.7 L557.7,74.6 L559.2,74.5 L560.7,74.3 L562.1,74.2 L563.6,74.1 L565.1,73.9 L566.6,73.8 L568.1,73.7 L569.6,73.6 L571.1,73.5 L572.6,73.4 L574.1,73.2 L575.6,73.1 L577.1,73.0 L578.6,72.9 L580.0,72.8 L581.5,72.8 L583.0,72.7 L584.5,72.6 L586.0,72.5 L587.5,72.4 L589.0,72.3 L590.5,72.2 L592.0,72.2 L593.5,72.1 L595.0,72.0 L596.5,72.0 L597.9,71.9 L599.4,71.8 L600.9,71.8 L602.4,71.7 L603.9,71.7 L605.4,71.6 L606.9,71.5 L608.4,71.5 L609.9,71.4 L611.4,71.4 L612.9,71.3 L614.4,71.3 L615.8,71.3 L617.3,71.2 L618.8,71.2 L620.3,71.1 L621.8,71.1 L623.3,71.1 L624.8,71.0 L626.3,71.0 L627.8,71.0 L629.3,70.9 L630.8,70.9 L632.3,70.9 L633.7,70.8 L635.2,70.8 L636.7,70.8 L638.2,70.7 L639.7,70.7 L641.2,70.7 L642.7,70.7 L644.2,70.6 L645.7,70.6 L647.2,70.6 L648.7,70.6 L650.2,70.5 L651.7,70.5 L653.2,70.5 L654.6,70.5 L656.1,70.4 L657.6,70.4 L659.1,70.4 L660.6,70.4 L662.1,70.4 L663.6,70.3 L665.1,70.3 L666.6,70.3 L668.1,70.3 L669.6,70.3 L671.1,70.2 L672.6,70.2 L674.1,70.2 L675.6,70.2 L677.0,70.2 L678.5,70.2 L680.0,70.1 L681.5,70.1 L683.0,70.1 L684.5,70.1 L686.0,70.1 L687.5,70.1 L689.0,70.1 L690.5,70.0 L692.0,70.0 L693.5,70.0 L695.0,70.0 L696.5,70.0 L698.0,70.0 L699.5,70.0 L701.0,69.9 L702.5,69.9 L704.0,69.9 L705.4,69.9 L706.9,69.9 L708.4,69.9 L709.9,69.9 L711.4,69.9 L712.9,69.9 L714.4,69.9 L715.9,69.8 L717.4,69.8 L718.9,69.8 L720.4,69.8 L721.9,69.8 L723.4,69.8 L724.9,69.8 L726.4,69.8 L727.9,69.8 L729.4,69.8 L730.9,69.8 L732.4,69.8 L733.9,69.8 L735.4,69.7 L736.8,69.7 L738.3,69.7 L739.8,69.7 L741.3,69.7 L742.8,69.7 L744.3,69.7 L745.8,69.7 L747.3,69.7 L748.8,69.7 L750.3,69.7 L751.8,69.7 L753.3,69.7 L754.8,69.7 L756.3,69.7 L757.8,69.7 L759.3,69.7 L760.8,69.7 L762.3,69.7 L763.8,69.7 L765.3,69.7 L766.8,69.7 L768.3,69.7 L769.8,69.6 L771.3,69.6 L772.7,69.6 L774.2,69.6 L775.7,69.6 L777.2,69.6 L778.7,69.6 L780.2,69.6 L781.7,69.6 L783.2,69.6 L784.7,69.6 L786.2,69.6 L787.7,69.6 L789.2,69.6 L790.7,69.6 L792.2,69.6 L793.7,69.6 L795.2,69.6 L796.7,69.6 L798.2,69.6 L799.7,69.6 L801.2,69.6 L802.7,69.6 L804.2,69.6 L805.7,69.6 L807.2,69.6 L808.6,69.6 L810.1,69.6 L811.6,69.6 L813.1,69.6 L814.6,69.6 L816.1,69.6 L817.6,69.6 L819.1,69.6 L820.6,69.6 L822.1,69.6 L823.6,69.6 L825.1,69.6 L826.6,69.6 L828.1,69.6 L829.6,69.6 L831.1,69.6 L832.6,69.6 L834.1,69.6 L835.6,69.6 L837.1,69.6 L838.6,69.6 L840.1,69.6 L841.6,69.6 L843.0,69.6 L844.5,69.6 L846.0,69.6 L847.5,69.6 L849.0,69.6 L850.5,69.6 L852.0,69.6 L853.5,69.6 L855.0,69.6 L856.5,69.6 L858.0,69.6 L859.5,69.6 L861.0,69.6 L862.5,69.6 L864.0,69.6 L865.5,69.6 L867.0,69.6 L868.5,69.6 L870.0,69.6 L871.5,69.6 L873.0,69.6 L874.5,69.6 L875.9,69.6 L877.4,69.6 L878.9,69.6 L880.4,69.6 L881.9,69.6 L883.4,69.6 L884.9,69.6 L886.4,69.6 L887.9,69.6 L889.4,69.6 L890.9,69.6 L892.4,69.6 L893.9,69.6 L895.4,69.6 L896.9,69.6 L898.4,69.6 L899.9,69.6 L901.4,69.6 L902.9,69.6 L904.4,69.6 L905.9,69.6 L907.3,69.6 L908.8,69.5 L910.3,69.5 L911.8,69.5 L913.3,69.5 L914.8,69.5 L916.3,69.5 L917.8,69.5 L919.3,69.5 L920.8,69.5 L922.3,69.5 L923.8,69.5 L925.3,69.5 L926.8,69.5 L928.3,69.5 L929.8,69.5 L931.3,69.5 L932.8,69.5 L934.3,69.5 L935.8,69.5 L937.3,69.5 L938.7,69.5 L940.2,69.5 L941.7,69.6 L943.2,69.6 L944.7,69.6 L946.2,69.6 L947.7,69.6 L949.2,69.6 L950.7,69.6 L952.2,69.6 L953.7,69.6 L955.2,69.6 L956.7,69.6 L958.2,69.6 L959.7,69.6 L961.2,69.6 L962.7,69.6 L964.2,69.6 L965.7,69.6 L967.2,69.6 L968.6,69.6 L970.1,69.6 L971.6,69.6 L973.1,69.6 L974.6,69.6 L976.1,69.6 L977.6,69.6 L979.1,69.6 L980.6,69.6 L982.1,69.6 L983.6,69.6 L985.1,69.6 L986.6,69.6 L988.1,69.6 L989.6,69.6 L991.1,69.6 L992.6,69.6 L994.1,69.6 L995.6,69.6 L997.1,69.6 L998.5,69.6 L1000.0,69.6 L1001.5,69.6 L1003.0,69.6 L1004.5,69.6 L1006.0,69.6 L1007.5,69.6 L1009.0,69.6 L1010.5,69.6 L1012.0,69.6 L1013.5,69.6 L1015.0,69.6 L1016.5,69.6 L1018.0,69.6 L1019.5,69.6 L1021.0,69.6 L1022.5,69.6 L1024.0,69.6 L1025.5,69.6 L1026.9,69.6 L1028.4,69.6 L1029.9,69.6 L1031.4,69.6 L1032.9,69.6 L1034.4,69.6 L1035.9,69.6 L1037.4,69.6 L1038.9,69.6 L1040.4,69.6 L1041.9,69.6 L1043.4,69.6 L1044.9,69.6 L1046.4,69.6 L1047.9,69.6 L1049.4,69.6 L1050.9,69.6 L1052.4,69.6 L1053.9,69.6 L1055.3,69.6 L1056.8,69.6 L1058.3,69.6 L1059.8,69.6 L1061.3,69.6 L1062.8,69.6 L1064.3,69.6 L1065.8,69.6 L1067.3,69.6 L1068.8,69.6 L1070.3,69.6 L1071.8,69.6 L1073.3,69.6 L1074.8,69.6 L1076.3,69.6 L1077.8,69.6 L1079.3,69.6 L1080.8,69.6 L1082.3,69.6 L1083.7,69.6 L1085.2,69.6 L1086.7,69.6 L1088.2,69.6 L1089.7,69.6 L1091.2,69.6 L1092.7,69.6 L1094.2,69.6 L1095.7,69.6 L1097.2,69.6 L1098.7,69.6 L1100.2,69.6 L1101.7,69.6 L1103.2,69.6 L1104.7,69.6 L1106.2,69.6 L1107.7,69.6 L1109.2,69.6 L1110.7,69.6 L1112.2,69.6 L1113.6,69.6 L1115.1,69.6 L1116.6,69.6 L1118.1,69.6 L1119.6,69.6 L1121.1,69.6 L1122.6,69.6 L1124.1,69.6 L1125.6,69.6 L1127.1,69.6 L1128.6,69.6 L1130.1,69.6 L1131.6,69.6 L1133.1,69.6 L1134.6,69.6 L1136.1,69.6 L1137.6,69.6 L1139.1,69.6 L1140.6,69.6 L1142.0,69.6 L1143.5,69.6 L1145.0,69.6 L1146.5,69.6 L1148.0,69.6 L1149.5,69.6 L1151.0,69.6 L1152.5,69.6 L1154.0,69.6 L1155.5,69.6 L1157.0,69.6 L1158.5,69.6 L1160.0,69.6 L1161.5,69.6 L1163.0,69.6 L1164.5,69.6 L1166.0,69.6 L1167.5,69.6 L1169.0,69.6 L1170.4,69.6 L1171.9,69.6 L1173.4,69.6 L1174.9,69.6 L1176.4,69.6 L1177.9,69.6 L1179.4,69.6 L1180.9,69.6 L1182.4,69.6 L1183.9,69.6 L1185.4,69.6 L1186.9,69.6 L1188.4,69.6 L1189.9,69.6 L1191.4,69.6 L1192.9,69.6 L1194.4,69.6 L1195.9,69.6 L1197.4,69.6 L1198.9,69.6 L1200.3,69.6 L1201.8,69.6 L1203.3,69.6 L1204.8,69.6 L1206.3,69.6 L1207.8,69.6 L1209.3,69.6 L1210.8,69.6 L1212.3,69.6 L1213.8,69.6 L1215.3,69.6 L1216.8,69.6 L1218.3,69.6 L1219.8,69.6 L1221.3,69.6 L1222.8,69.6 L1224.3,69.6 L1225.8,69.6 L1227.3,69.6 L1228.8,69.6 L1230.2,69.6 L1231.7,69.6 L1233.2,69.6 L1234.7,69.6 L1236.2,69.6 L1237.7,69.6 L1239.2,69.6 L1240.7,69.6 L1242.2,69.6 L1243.7,69.6 L1245.2,69.6 L1246.7,69.6 L1248.2,69.6 L1249.7,69.6 L1251.2,69.6 L1252.7,69.6 L1254.2,69.6 L1255.7,69.6 L1257.2,69.6 L1258.7,69.6 L1260.2,69.6 L1261.6,69.6 L1263.1,69.6 L1264.6,69.6 L1266.1,69.6 L1267.6,69.6 L1269.1,69.6 L1270.6,69.6 L1272.1,69.6 L1273.6,69.6 L1275.1,69.6 L1276.6,69.6 L1278.1,69.6 L1279.6,69.6 L1281.1,69.6 L1282.6,69.6 L1284.1,69.6 L1285.6,69.6 L1287.1,69.6 L1288.6,69.6 L1290.1,69.6 L1291.6,69.6 L1293.1,69.6 L1294.5,69.6 L1296.0,69.6 L1297.5,69.6 L1299.0,69.6 L1300.5,69.6 L1302.0,69.6 L1303.5,69.6 L1305.0,69.6 L1306.5,69.6 L1308.0,69.6 L1309.5,69.6 L1311.0,69.6 L1312.5,69.6 L1314.0,69.6 L1315.5,69.6 L1317.0,69.6 L1318.5,69.6 L1320.0,69.6 L1321.5,69.6 L1323.0,69.6 L1324.5,69.6 L1326.0,69.6 L1327.4,69.6 L1328.9,69.6 L1330.4,69.6 L1331.9,69.6 L1333.4,69.6 L1334.9,69.6 L1336.4,69.6 L1337.9,69.6 L1339.4,69.6 L1340.9,69.6 L1342.4,69.6 L1343.9,69.6 L1345.4,69.6 L1346.9,69.6 L1348.4,69.6" stroke="#f9c9cf" stroke-width="6.8" opacity="0.55"/>
<path d="M267.6,655.9 L269.2,655.5 L270.7,655.0 L272.1,654.4 L273.4,653.7 L274.7,652.9 L275.8,652.0 L276.9,651.1 L278.0,650.1 L278.9,649.1 L279.9,648.0 L280.7,646.8 L281.6,645.6 L282.3,644.4 L283.1,643.2 L283.8,641.9 L284.4,640.6 L285.1,639.3 L285.7,638.0 L286.3,636.6 L286.9,635.3 L287.4,633.9 L287.9,632.5 L288.4,631.1 L288.9,629.7 L289.3,628.3 L289.8,626.8 L290.2,625.4 L290.6,624.0 L291.0,622.5 L291.4,621.0 L291.7,619.6 L292.1,618.1 L292.4,616.6 L292.7,615.2 L293.1,613.7 L293.4,612.2 L293.7,610.7 L294.0,609.2 L294.3,607.7 L294.6,606.3 L294.9,604.8 L295.2,603.3 L295.5,601.8 L295.8,600.3 L296.1,598.8 L296.4,597.4 L296.7,595.9 L297.0,594.4 L297.3,592.9 L297.6,591.4 L297.9,590.0 L298.1,588.5 L298.4,587.0 L298.7,585.5 L299.0,584.1 L299.3,582.6 L299.5,581.1 L299.8,579.6 L300.1,578.2 L300.3,576.7 L300.6,575.2 L300.9,573.7 L301.1,572.3 L301.4,570.8 L301.7,569.3 L301.9,567.8 L302.2,566.4 L302.4,564.9 L302.7,563.4 L303.0,562.0 L303.2,560.5 L303.5,559.0 L303.7,557.5 L304.0,556.1 L304.2,554.6 L304.5,553.1 L304.7,551.7 L305.0,550.2 L305.2,548.7 L305.4,547.2 L305.7,545.8 L305.9,544.3 L306.2,542.8 L306.4,541.4 L306.6,539.9 L306.9,538.4 L307.1,537.0 L307.4,535.5 L307.6,534.0 L307.8,532.5 L308.1,531.1 L308.3,529.6 L308.5,528.1 L308.8,526.7 L309.0,525.2 L309.2,523.7 L309.4,522.3 L309.7,520.8 L309.9,519.3 L310.1,517.8 L310.4,516.4 L310.6,514.9 L310.8,513.4 L311.0,511.9 L311.3,510.5 L311.5,509.0 L311.7,507.5 L311.9,506.1 L312.2,504.6 L312.4,503.1 L312.6,501.6 L312.8,500.2 L313.1,498.7 L313.3,497.2 L313.5,495.7 L313.7,494.3 L313.9,492.8 L314.2,491.3 L314.4,489.8 L314.6,488.4 L314.8,486.9 L315.1,485.4 L315.3,483.9 L315.5,482.4 L315.7,481.0 L316.0,479.5 L316.2,478.0 L316.4,476.5 L316.6,475.1 L316.9,473.6 L317.1,472.1 L317.3,470.6 L317.5,469.1 L317.8,467.7 L318.0,466.2 L318.2,464.7 L318.4,463.2 L318.7,461.7 L318.9,460.3 L319.1,458.8 L319.4,457.3 L319.6,455.8 L319.8,454.3 L320.1,452.9 L320.3,451.4 L320.5,449.9 L320.8,448.4 L321.0,447.0 L321.2,445.5 L321.5,444.0 L321.7,442.5 L322.0,441.0 L322.2,439.6 L322.5,438.1 L322.7,436.6 L322.9,435.1 L323.2,433.7 L323.4,432.2 L323.7,430.7 L323.9,429.2 L324.2,427.7 L324.4,426.3 L324.7,424.8 L325.0,423.3 L325.2,421.8 L325.5,420.4 L325.7,418.9 L326.0,417.4 L326.3,416.0 L326.5,414.5 L326.8,413.0 L327.1,411.5 L327.3,410.1 L327.6,408.6 L327.9,407.1 L328.2,405.6 L328.4,404.2 L328.7,402.7 L329.0,401.2 L329.3,399.8 L329.6,398.3 L329.9,396.8 L330.2,395.4 L330.4,393.9 L330.7,392.4 L331.0,391.0 L331.3,389.5 L331.6,388.0 L331.9,386.6 L332.2,385.1 L332.6,383.6 L332.9,382.2 L333.2,380.7 L333.5,379.3 L333.8,377.8 L334.1,376.3 L334.4,374.9 L334.8,373.4 L335.1,372.0 L335.4,370.5 L335.8,369.1 L336.1,367.6 L336.4,366.1 L336.8,364.7 L337.1,363.2 L337.5,361.8 L337.8,360.3 L338.2,358.9 L338.5,357.4 L338.9,356.0 L339.2,354.5 L339.6,353.1 L340.0,351.6 L340.3,350.2 L340.7,348.8 L341.1,347.3 L341.4,345.9 L341.8,344.4 L342.2,343.0 L342.6,341.5 L342.9,340.1 L343.3,338.6 L343.7,337.2 L344.1,335.8 L344.5,334.3 L344.9,332.9 L345.3,331.4 L345.7,330.0 L346.1,328.6 L346.5,327.1 L346.9,325.7 L347.3,324.3 L347.7,322.8 L348.1,321.4 L348.5,319.9 L348.9,318.5 L349.3,317.1 L349.7,315.6 L350.1,314.2 L350.6,312.8 L351.0,311.3 L351.4,309.9 L351.8,308.5 L352.2,307.0 L352.7,305.6 L353.1,304.2 L353.5,302.7 L353.9,301.3 L354.4,299.9 L354.8,298.5 L355.2,297.0 L355.7,295.6 L356.1,294.2 L356.5,292.7 L357.0,291.3 L357.4,289.9 L357.9,288.5 L358.3,287.0 L358.7,285.6 L359.2,284.2 L359.6,282.7 L360.1,281.3 L360.5,279.9 L361.0,278.5 L361.4,277.0 L361.9,275.6 L362.3,274.2 L362.8,272.7 L363.2,271.3 L363.7,269.9 L364.1,268.5 L364.6,267.0 L365.0,265.6 L365.5,264.2 L365.9,262.8 L366.4,261.3 L366.9,259.9 L367.3,258.5 L367.8,257.1 L368.2,255.6 L368.7,254.2 L369.2,252.8 L369.6,251.3 L370.1,249.9 L370.5,248.5 L371.0,247.1 L371.5,245.6 L371.9,244.2 L372.4,242.8 L372.9,241.4 L373.3,239.9 L373.8,238.5 L374.3,237.1 L374.7,235.7 L375.2,234.2 L375.7,232.8 L376.2,231.4 L376.6,230.0 L377.1,228.6 L377.6,227.1 L378.1,225.7 L378.6,224.3 L379.1,222.9 L379.6,221.5 L380.1,220.1 L380.6,218.7 L381.1,217.3 L381.6,215.9 L382.2,214.5 L382.7,213.1 L383.2,211.7 L383.7,210.3 L384.3,208.9 L384.8,207.5 L385.4,206.1 L385.9,204.7 L386.5,203.3 L387.0,202.0 L387.6,200.6 L388.2,199.2 L388.8,197.8 L389.4,196.5 L390.0,195.1 L390.6,193.7 L391.2,192.4 L391.8,191.0 L392.4,189.7 L393.0,188.3 L393.7,187.0 L394.3,185.6 L394.9,184.3 L395.6,183.0 L396.3,181.6 L396.9,180.3 L397.6,179.0 L398.3,177.7 L399.0,176.3 L399.7,175.0 L400.4,173.7 L401.1,172.4 L401.9,171.1 L402.6,169.8 L403.4,168.6 L404.1,167.3 L404.9,166.0 L405.6,164.7 L406.4,163.5 L407.2,162.2 L408.0,160.9 L408.8,159.7 L409.6,158.4 L410.5,157.2 L411.3,155.9 L412.1,154.7 L413.0,153.5 L413.8,152.2 L414.7,151.0 L415.6,149.8 L416.4,148.6 L417.3,147.4 L418.2,146.2 L419.1,145.0 L420.0,143.8 L420.9,142.6 L421.9,141.4 L422.8,140.2 L423.7,139.1 L424.7,137.9 L425.6,136.7 L426.6,135.6 L427.6,134.4 L428.5,133.3 L429.5,132.1 L430.5,131.0 L431.5,129.9 L432.5,128.7 L433.5,127.6 L434.6,126.5 L435.6,125.4 L436.6,124.3 L437.7,123.2 L438.7,122.1 L439.8,121.0 L440.8,119.9 L441.9,118.9 L443.0,117.8 L444.1,116.7 L445.1,115.7 L446.3,114.7 L447.4,113.7 L448.5,112.6 L449.6,111.6 L450.7,110.7 L451.9,109.7 L453.0,108.7 L454.2,107.7 L455.3,106.8 L456.5,105.9 L457.7,105.0 L458.9,104.1 L460.1,103.2 L461.3,102.3 L462.5,101.4 L463.7,100.6 L465.0,99.7 L466.2,98.9 L467.5,98.1 L468.7,97.3 L470.0,96.6 L471.2,95.8 L472.5,95.1 L473.8,94.4 L475.1,93.7 L476.4,93.0 L477.8,92.3 L479.1,91.7 L480.4,91.1 L481.8,90.5 L483.1,89.9 L484.5,89.3 L485.8,88.7 L487.2,88.2 L488.6,87.7 L490.0,87.2 L491.4,86.7 L492.8,86.2 L494.2,85.7 L495.6,85.3 L497.0,84.8 L498.5,84.4 L499.9,84.0 L501.3,83.6 L502.8,83.2 L504.2,82.8 L505.7,82.5 L507.1,82.1 L508.6,81.8 L510.0,81.5 L511.5,81.2 L513.0,80.8 L514.5,80.5 L515.9,80.3 L517.4,80.0 L518.9,79.7 L520.4,79.4 L521.9,79.2 L523.4,78.9 L524.8,78.7 L526.3,78.5 L527.8,78.2 L529.3,78.0 L530.8,77.8 L532.3,77.6 L533.8,77.4 L535.3,77.2 L536.8,77.0 L538.3,76.8 L539.8,76.6 L541.3,76.4 L542.8,76.2 L544.2,76.0 L545.7,75.9 L547.2,75.7 L548.7,75.5 L550.2,75.4 L551.7,75.2 L553.2,75.0 L554.7,74.9 L556.2,74.7 L557.7,74.6 L559.2,74.5 L560.7,74.3 L562.1,74.2 L563.6,74.1 L565.1,73.9 L566.6,73.8 L568.1,73.7 L569.6,73.6 L571.1,73.5 L572.6,73.4 L574.1,73.2 L575.6,73.1 L577.1,73.0 L578.6,72.9 L580.0,72.8 L581.5,72.8 L583.0,72.7 L584.5,72.6 L586.0,72.5 L587.5,72.4 L589.0,72.3 L590.5,72.2 L592.0,72.2 L593.5,72.1 L595.0,72.0 L596.5,72.0 L597.9,71.9 L599.4,71.8 L600.9,71.8 L602.4,71.7 L603.9,71.7 L605.4,71.6 L606.9,71.5 L608.4,71.5 L609.9,71.4 L611.4,71.4 L612.9,71.3 L614.4,71.3 L615.8,71.3 L617.3,71.2 L618.8,71.2 L620.3,71.1 L621.8,71.1 L623.3,71.1 L624.8,71.0 L626.3,71.0 L627.8,71.0 L629.3,70.9 L630.8,70.9 L632.3,70.9 L633.7,70.8 L635.2,70.8 L636.7,70.8 L638.2,70.7 L639.7,70.7 L641.2,70.7 L642.7,70.7 L644.2,70.6 L645.7,70.6 L647.2,70.6 L648.7,70.6 L650.2,70.5 L651.7,70.5 L653.2,70.5 L654.6,70.5 L656.1,70.4 L657.6,70.4 L659.1,70.4 L660.6,70.4 L662.1,70.4 L663.6,70.3 L665.1,70.3 L666.6,70.3 L668.1,70.3 L669.6,70.3 L671.1,70.2 L672.6,70.2 L674.1,70.2 L675.6,70.2 L677.0,70.2 L678.5,70.2 L680.0,70.1 L681.5,70.1 L683.0,70.1 L684.5,70.1 L686.0,70.1 L687.5,70.1 L689.0,70.1 L690.5,70.0 L692.0,70.0 L693.5,70.0 L695.0,70.0 L696.5,70.0 L698.0,70.0 L699.5,70.0 L701.0,69.9 L702.5,69.9 L704.0,69.9 L705.4,69.9 L706.9,69.9 L708.4,69.9 L709.9,69.9 L711.4,69.9 L712.9,69.9 L714.4,69.9 L715.9,69.8 L717.4,69.8 L718.9,69.8 L720.4,69.8 L721.9,69.8 L723.4,69.8 L724.9,69.8 L726.4,69.8 L727.9,69.8 L729.4,69.8 L730.9,69.8 L732.4,69.8 L733.9,69.8 L735.4,69.7 L736.8,69.7 L738.3,69.7 L739.8,69.7 L741.3,69.7 L742.8,69.7 L744.3,69.7 L745.8,69.7 L747.3,69.7 L748.8,69.7 L750.3,69.7 L751.8,69.7 L753.3,69.7 L754.8,69.7 L756.3,69.7 L757.8,69.7 L759.3,69.7 L760.8,69.7 L762.3,69.7 L763.8,69.7 L765.3,69.7 L766.8,69.7 L768.3,69.7 L769.8,69.6 L771.3,69.6 L772.7,69.6 L774.2,69.6 L775.7,69.6 L777.2,69.6 L778.7,69.6 L780.2,69.6 L781.7,69.6 L783.2,69.6 L784.7,69.6 L786.2,69.6 L787.7,69.6 L789.2,69.6 L790.7,69.6 L792.2,69.6 L793.7,69.6 L795.2,69.6 L796.7,69.6 L798.2,69.6 L799.7,69.6 L801.2,69.6 L802.7,69.6 L804.2,69.6 L805.7,69.6 L807.2,69.6 L808.6,69.6 L810.1,69.6 L811.6,69.6 L813.1,69.6 L814.6,69.6 L816.1,69.6 L817.6,69.6 L819.1,69.6 L820.6,69.6 L822.1,69.6 L823.6,69.6 L825.1,69.6 L826.6,69.6 L828.1,69.6 L829.6,69.6 L831.1,69.6 L832.6,69.6 L834.1,69.6 L835.6,69.6 L837.1,69.6 L838.6,69.6 L840.1,69.6 L841.6,69.6 L843.0,69.6 L844.5,69.6 L846.0,69.6 L847.5,69.6 L849.0,69.6 L850.5,69.6 L852.0,69.6 L853.5,69.6 L855.0,69.6 L856.5,69.6 L858.0,69.6 L859.5,69.6 L861.0,69.6 L862.5,69.6 L864.0,69.6 L865.5,69.6 L867.0,69.6 L868.5,69.6 L870.0,69.6 L871.5,69.6 L873.0,69.6 L874.5,69.6 L875.9,69.6 L877.4,69.6 L878.9,69.6 L880.4,69.6 L881.9,69.6 L883.4,69.6 L884.9,69.6 L886.4,69.6 L887.9,69.6 L889.4,69.6 L890.9,69.6 L892.4,69.6 L893.9,69.6 L895.4,69.6 L896.9,69.6 L898.4,69.6 L899.9,69.6 L901.4,69.6 L902.9,69.6 L904.4,69.6 L905.9,69.6 L907.3,69.6 L908.8,69.5 L910.3,69.5 L911.8,69.5 L913.3,69.5 L914.8,69.5 L916.3,69.5 L917.8,69.5 L919.3,69.5 L920.8,69.5 L922.3,69.5 L923.8,69.5 L925.3,69.5 L926.8,69.5 L928.3,69.5 L929.8,69.5 L931.3,69.5 L932.8,69.5 L934.3,69.5 L935.8,69.5 L937.3,69.5 L938.7,69.5 L940.2,69.5 L941.7,69.6 L943.2,69.6 L944.7,69.6 L946.2,69.6 L947.7,69.6 L949.2,69.6 L950.7,69.6 L952.2,69.6 L953.7,69.6 L955.2,69.6 L956.7,69.6 L958.2,69.6 L959.7,69.6 L961.2,69.6 L962.7,69.6 L964.2,69.6 L965.7,69.6 L967.2,69.6 L968.6,69.6 L970.1,69.6 L971.6,69.6 L973.1,69.6 L974.6,69.6 L976.1,69.6 L977.6,69.6 L979.1,69.6 L980.6,69.6 L982.1,69.6 L983.6,69.6 L985.1,69.6 L986.6,69.6 L988.1,69.6 L989.6,69.6 L991.1,69.6 L992.6,69.6 L994.1,69.6 L995.6,69.6 L997.1,69.6 L998.5,69.6 L1000.0,69.6 L1001.5,69.6 L1003.0,69.6 L1004.5,69.6 L1006.0,69.6 L1007.5,69.6 L1009.0,69.6 L1010.5,69.6 L1012.0,69.6 L1013.5,69.6 L1015.0,69.6 L1016.5,69.6 L1018.0,69.6 L1019.5,69.6 L1021.0,69.6 L1022.5,69.6 L1024.0,69.6 L1025.5,69.6 L1026.9,69.6 L1028.4,69.6 L1029.9,69.6 L1031.4,69.6 L1032.9,69.6 L1034.4,69.6 L1035.9,69.6 L1037.4,69.6 L1038.9,69.6 L1040.4,69.6 L1041.9,69.6 L1043.4,69.6 L1044.9,69.6 L1046.4,69.6 L1047.9,69.6 L1049.4,69.6 L1050.9,69.6 L1052.4,69.6 L1053.9,69.6 L1055.3,69.6 L1056.8,69.6 L1058.3,69.6 L1059.8,69.6 L1061.3,69.6 L1062.8,69.6 L1064.3,69.6 L1065.8,69.6 L1067.3,69.6 L1068.8,69.6 L1070.3,69.6 L1071.8,69.6 L1073.3,69.6 L1074.8,69.6 L1076.3,69.6 L1077.8,69.6 L1079.3,69.6 L1080.8,69.6 L1082.3,69.6 L1083.7,69.6 L1085.2,69.6 L1086.7,69.6 L1088.2,69.6 L1089.7,69.6 L1091.2,69.6 L1092.7,69.6 L1094.2,69.6 L1095.7,69.6 L1097.2,69.6 L1098.7,69.6 L1100.2,69.6 L1101.7,69.6 L1103.2,69.6 L1104.7,69.6 L1106.2,69.6 L1107.7,69.6 L1109.2,69.6 L1110.7,69.6 L1112.2,69.6 L1113.6,69.6 L1115.1,69.6 L1116.6,69.6 L1118.1,69.6 L1119.6,69.6 L1121.1,69.6 L1122.6,69.6 L1124.1,69.6 L1125.6,69.6 L1127.1,69.6 L1128.6,69.6 L1130.1,69.6 L1131.6,69.6 L1133.1,69.6 L1134.6,69.6 L1136.1,69.6 L1137.6,69.6 L1139.1,69.6 L1140.6,69.6 L1142.0,69.6 L1143.5,69.6 L1145.0,69.6 L1146.5,69.6 L1148.0,69.6 L1149.5,69.6 L1151.0,69.6 L1152.5,69.6 L1154.0,69.6 L1155.5,69.6 L1157.0,69.6 L1158.5,69.6 L1160.0,69.6 L1161.5,69.6 L1163.0,69.6 L1164.5,69.6 L1166.0,69.6 L1167.5,69.6 L1169.0,69.6 L1170.4,69.6 L1171.9,69.6 L1173.4,69.6 L1174.9,69.6 L1176.4,69.6 L1177.9,69.6 L1179.4,69.6 L1180.9,69.6 L1182.4,69.6 L1183.9,69.6 L1185.4,69.6 L1186.9,69.6 L1188.4,69.6 L1189.9,69.6 L1191.4,69.6 L1192.9,69.6 L1194.4,69.6 L1195.9,69.6 L1197.4,69.6 L1198.9,69.6 L1200.3,69.6 L1201.8,69.6 L1203.3,69.6 L1204.8,69.6 L1206.3,69.6 L1207.8,69.6 L1209.3,69.6 L1210.8,69.6 L1212.3,69.6 L1213.8,69.6 L1215.3,69.6 L1216.8,69.6 L1218.3,69.6 L1219.8,69.6 L1221.3,69.6 L1222.8,69.6 L1224.3,69.6 L1225.8,69.6 L1227.3,69.6 L1228.8,69.6 L1230.2,69.6 L1231.7,69.6 L1233.2,69.6 L1234.7,69.6 L1236.2,69.6 L1237.7,69.6 L1239.2,69.6 L1240.7,69.6 L1242.2,69.6 L1243.7,69.6 L1245.2,69.6 L1246.7,69.6 L1248.2,69.6 L1249.7,69.6 L1251.2,69.6 L1252.7,69.6 L1254.2,69.6 L1255.7,69.6 L1257.2,69.6 L1258.7,69.6 L1260.2,69.6 L1261.6,69.6 L1263.1,69.6 L1264.6,69.6 L1266.1,69.6 L1267.6,69.6 L1269.1,69.6 L1270.6,69.6 L1272.1,69.6 L1273.6,69.6 L1275.1,69.6 L1276.6,69.6 L1278.1,69.6 L1279.6,69.6 L1281.1,69.6 L1282.6,69.6 L1284.1,69.6 L1285.6,69.6 L1287.1,69.6 L1288.6,69.6 L1290.1,69.6 L1291.6,69.6 L1293.1,69.6 L1294.5,69.6 L1296.0,69.6 L1297.5,69.6 L1299.0,69.6 L1300.5,69.6 L1302.0,69.6 L1303.5,69.6 L1305.0,69.6 L1306.5,69.6 L1308.0,69.6 L1309.5,69.6 L1311.0,69.6 L1312.5,69.6 L1314.0,69.6 L1315.5,69.6 L1317.0,69.6 L1318.5,69.6 L1320.0,69.6 L1321.5,69.6 L1323.0,69.6 L1324.5,69.6 L1326.0,69.6 L1327.4,69.6 L1328.9,69.6 L1330.4,69.6 L1331.9,69.6 L1333.4,69.6 L1334.9,69.6 L1336.4,69.6 L1337.9,69.6 L1339.4,69.6 L1340.9,69.6 L1342.4,69.6 L1343.9,69.6 L1345.4,69.6 L1346.9,69.6 L1348.4,69.6" stroke="#c1222f" stroke-width="4.5"/>
</g>
<rect x="267.5" y="24.4" width="1082.0" height="632.0" fill="none" stroke="#231f20" stroke-width="3.0"/>
<line x1="267.5" y1="565.40" x2="281.0" y2="565.40" stroke="#231f20" stroke-width="3.0"/>
<line x1="267.5" y1="475.40" x2="281.0" y2="475.40" stroke="#231f20" stroke-width="3.0"/>
<line x1="267.5" y1="385.40" x2="281.0" y2="385.40" stroke="#231f20" stroke-width="3.0"/>
<line x1="267.5" y1="294.50" x2="281.0" y2="294.50" stroke="#231f20" stroke-width="3.0"/>
<line x1="267.5" y1="204.50" x2="281.0" y2="204.50" stroke="#231f20" stroke-width="3.0"/>
<line x1="267.5" y1="114.50" x2="281.0" y2="114.50" stroke="#231f20" stroke-width="3.0"/>
<line x1="447.50" y1="656.4" x2="447.50" y2="641.8" stroke="#231f20" stroke-width="3.0"/>
<line x1="627.80" y1="656.4" x2="627.80" y2="641.8" stroke="#231f20" stroke-width="3.0"/>
<line x1="808.50" y1="656.4" x2="808.50" y2="641.8" stroke="#231f20" stroke-width="3.0"/>
<line x1="988.60" y1="656.4" x2="988.60" y2="641.8" stroke="#231f20" stroke-width="3.0"/>
<line x1="1169.40" y1="656.4" x2="1169.40" y2="641.8" stroke="#231f20" stroke-width="3.0"/>
<g font-family='"Liberation Serif", "Noto Serif CJK SC", serif' font-size="52.0" fill="#231f20">
<text transform="translate(247.1 581.8) scale(1 1.035)" text-anchor="end">0.2</text>
<text transform="translate(247.1 491.8) scale(1 1.035)" text-anchor="end">0.4</text>
<text transform="translate(247.1 401.9) scale(1 1.035)" text-anchor="end">0.6</text>
<text transform="translate(247.1 311.9) scale(1 1.035)" text-anchor="end">0.8</text>
<text transform="translate(247.1 222.7) scale(1 1.035)" text-anchor="end">1.0</text>
<text transform="translate(247.1 132.8) scale(1 1.035)" text-anchor="end">1.2</text>
<text transform="translate(247.1 43.2) scale(1 1.035)" text-anchor="end">1.4</text>
<text transform="translate(248.2 712.3) scale(1 1.035)" text-anchor="end">0</text>
<text transform="translate(446.3 712.3) scale(1 1.035)" text-anchor="middle">5</text>
<text transform="translate(628.8 712.3) scale(1 1.035)" text-anchor="middle">10</text>
<text transform="translate(808.2 712.3) scale(1 1.035)" text-anchor="middle">15</text>
<text transform="translate(988.3 712.3) scale(1 1.035)" text-anchor="middle">20</text>
<text transform="translate(1168.2 712.3) scale(1 1.035)" text-anchor="middle">25</text>
<text transform="translate(1349.9 712.3) scale(1 1.035)" text-anchor="middle">30</text>
<text x="807.9" y="794.9" text-anchor="middle"><tspan dy="1.6">时间</tspan><tspan dy="-1.6">/ms</tspan></text>
<text transform="translate(142.3 339.6) rotate(-90)" text-anchor="middle"><tspan dy="1.6">阀芯位移</tspan><tspan dy="-1.6">/mm</tspan></text>
<text x="695.6" y="438.3"><tspan dy="1.6">正常劈尖宽度</tspan><tspan dy="-1.6" font-style="italic">e</tspan>=0.02 mm</text>
<text x="695.6" y="500.8"><tspan dy="1.6">冲蚀劈尖宽度</tspan><tspan dy="-1.6" font-style="italic">e</tspan><tspan font-size="30" dy="9.6">m</tspan><tspan dy="-9.6">=0.07 mm</tspan></text>
<text x="695.6" y="568.9"><tspan dy="1.6">冲蚀劈尖宽度</tspan><tspan dy="-1.6" font-style="italic">e</tspan><tspan font-size="30" dy="9.6">m</tspan><tspan dy="-9.6">=0.12 mm</tspan></text>
</g>
<line x1="603" y1="421.4" x2="674.2" y2="421.4" stroke="#0d0b0c" stroke-width="6.6" stroke-dasharray="4.9 4.45"/>
<line x1="603" y1="484" x2="660.3" y2="484" stroke="#2e3192" stroke-width="6" stroke-dasharray="20 19"/>
<line x1="603" y1="550.9" x2="675.8" y2="550.9" stroke="#fbd5d9" stroke-width="7.6"/>
<line x1="603" y1="551.8" x2="675.8" y2="551.8" stroke="#c1222f" stroke-width="6"/>
</svg>
</body>
</html>
